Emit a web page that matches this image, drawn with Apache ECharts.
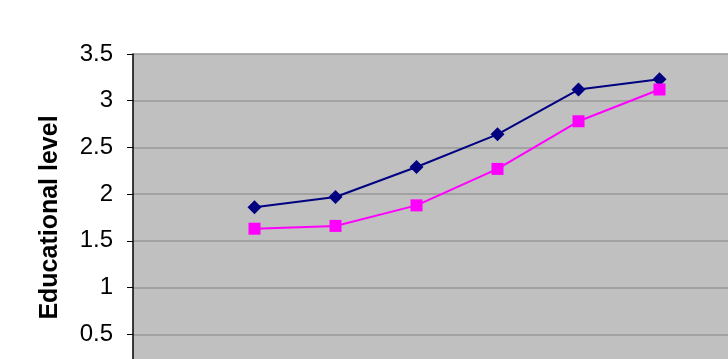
<!DOCTYPE html>
<html><head><meta charset="utf-8">
<script src="https://cdn.jsdelivr.net/npm/echarts@6/dist/echarts.min.js"></script>
<style>html,body{margin:0;padding:0;background:#fff;overflow:hidden}#c{width:800px;height:400px}</style>
</head><body><div id="c"></div>
<script>
const categories = ['', '1', '2', '3', '4', '5', '6', ''];
const seriesA = [null, 1.86, 1.97, 2.29, 2.64, 3.12, 3.23, null];
const seriesB = [null, 1.63, 1.66, 1.88, 2.27, 2.78, 3.12, null];
const yTicks = [0, 0.5, 1, 1.5, 2, 2.5, 3, 3.5];

const chart = echarts.init(document.getElementById('c'), null, {renderer: 'canvas'});
chart.setOption({
  animation: false,
  backgroundColor: '#ffffff',
  grid: {left: 133, top: 54, right: 19, bottom: 19, show: true, backgroundColor: '#c0c0c0', borderWidth: 0},
  xAxis: {
    type: 'category', data: categories, boundaryGap: true,
    axisLine: {show: false}, axisTick: {show: false}, axisLabel: {show: false}
  },
  yAxis: {
    type: 'value', min: yTicks[0], max: yTicks[yTicks.length - 1], interval: 0.5,
    name: 'Educational level', nameLocation: 'middle', nameGap: 70,
    nameTextStyle: {fontFamily: 'Liberation Sans', fontSize: 25, fontWeight: 'bold', color: '#000'},
    axisLine: {show: true, lineStyle: {color: '#000', width: 1.5}},
    axisTick: {show: true, length: 6, lineStyle: {color: '#000'}},
    axisLabel: {fontFamily: 'Liberation Sans', fontSize: 24, color: '#000', margin: 20,
      formatter: v => String(v)},
    splitLine: {show: true, lineStyle: {color: '#999999', width: 1.5}}
  },
  series: [
    {type: 'line', data: seriesA, symbol: 'diamond', symbolSize: 14,
     lineStyle: {color: '#000080', width: 2}, itemStyle: {color: '#000080'}},
    {type: 'line', data: seriesB, symbol: 'rect', symbolSize: 12,
     lineStyle: {color: '#ff00ff', width: 2}, itemStyle: {color: '#ff00ff'}}
  ]
});
</script></body></html>
